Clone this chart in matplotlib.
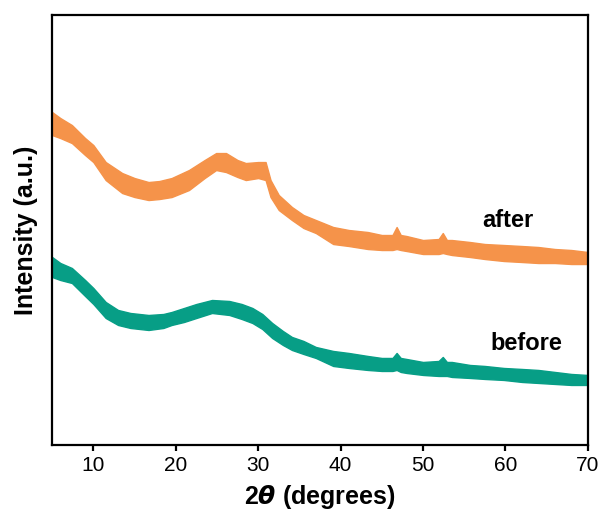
import numpy as np
import matplotlib.pyplot as plt

# 2theta positions (degrees) and envelope of the noisy band
two_theta_after = [5.0, 6.0, 7.4, 9.0, 10.0, 11.5, 13.5, 15.0, 16.7, 18.0, 19.5,
                   21.6, 23.5, 24.9, 26.1, 27.5, 28.5, 30.0, 30.9, 31.5, 32.5,
                   34.1, 35.5, 37.0, 39.1, 41.0, 43.3, 45.0, 46.3, 46.8, 47.3,
                   48.0, 50.0, 51.9, 52.4, 52.9, 53.5, 55.7, 57.5, 59.8, 62.0,
                   64.0, 66.0, 68.0, 70.0]
after_upper = [333, 327, 320, 307, 300, 283, 272, 267, 263, 264, 267,
               275, 285, 292, 292, 285, 282, 283, 283, 265, 250,
               238, 230, 225, 218, 215, 213, 210, 210, 218, 210,
               209, 205, 206, 212, 205, 205, 203, 201, 200, 199,
               198, 196, 195, 193]
after_lower = [310, 307, 302, 290, 283, 265, 252, 248, 245, 246, 248,
               255, 267, 275, 273, 268, 265, 267, 265, 248, 235,
               225, 217, 212, 201, 199, 196, 195, 195, 196, 195,
               194, 191, 191, 192, 191, 190, 188, 186, 184, 183,
               182, 182, 181, 181]

two_theta_before = [5.0, 6.0, 7.4, 9.0, 10.0, 11.5, 13.0, 14.5, 16.7, 18.5, 19.5,
                    21.0, 22.5, 24.4, 26.5, 28.0, 29.3, 30.5, 31.7, 33.0, 34.1,
                    35.5, 37.0, 39.1, 41.0, 43.3, 45.0, 46.3, 46.8, 47.3, 48.0,
                    50.0, 51.9, 52.4, 52.9, 53.5, 55.7, 57.5, 59.8, 62.0, 64.0,
                    66.0, 68.0, 70.0]
before_upper = [188, 182, 177, 165, 157, 143, 135, 132, 130, 131, 133,
                137, 141, 145, 144, 141, 137, 131, 122, 114, 108,
                104, 98, 94, 92, 89, 87, 87, 92, 87, 86,
                83, 84, 88, 83, 83, 80, 79, 77, 76, 75,
                73, 71, 70]
before_lower = [168, 165, 162, 149, 141, 127, 120, 117, 115, 117, 120,
                123, 127, 132, 130, 126, 122, 116, 107, 100, 95,
                91, 87, 79, 77, 75, 74, 74, 75, 73, 72,
                70, 69, 69, 69, 68, 67, 66, 65, 63, 62,
                61, 60, 60]

labels = ['after', 'before']
label_pos = [(60.3, 225), (62.5, 101)]

orange = '#F5934A'
teal = '#079E86'

plt.rcParams['font.family'] = ['Liberation Sans', 'DejaVu Sans']

fig = plt.figure(figsize=(6.06, 5.21), dpi=100)
ax = fig.add_axes([0.086, 0.146, 0.884, 0.825])

ax.fill_between(two_theta_after, after_lower, after_upper,
                color=orange, linewidth=1.0, joinstyle='round')
ax.fill_between(two_theta_before, before_lower, before_upper,
                color=teal, linewidth=1.0, joinstyle='round')

for lab, (tx, ty) in zip(labels, label_pos):
    ax.text(tx, ty, lab, fontsize=17, fontweight='bold',
            ha='center', va='center')

ax.set_xlim(5, 70)
ax.set_ylim(0, 430)
ax.set_xticks([10, 20, 30, 40, 50, 60, 70])
ax.set_yticks([])
ax.tick_params(axis='x', direction='out', length=4, width=1.6,
               labelsize=15, pad=4)
for sp in ax.spines.values():
    sp.set_linewidth(1.6)

ax.set_xlabel(r'2$\boldsymbol{\theta}$ (degrees)', fontsize=18,
              fontweight='bold', labelpad=6)
ax.set_ylabel('Intensity (a.u.)', fontsize=18, fontweight='bold', labelpad=10)

plt.savefig('out.png', dpi=100, facecolor='white')
plt.close()
